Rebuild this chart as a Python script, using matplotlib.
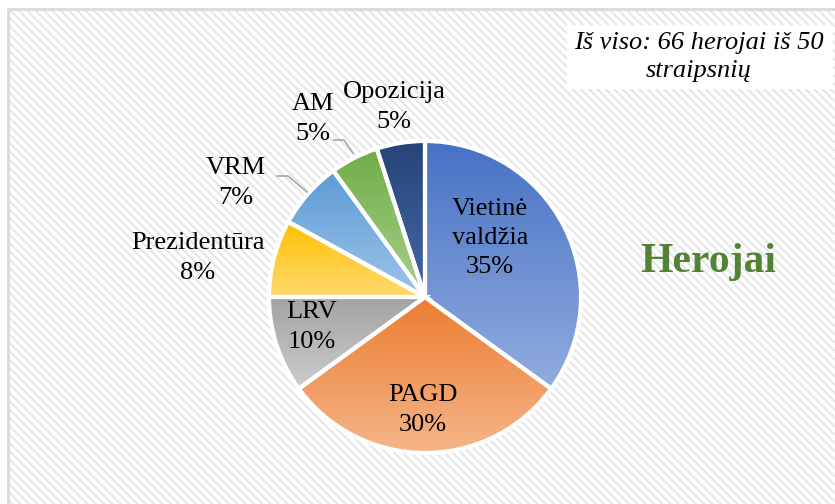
import numpy as np
import matplotlib.pyplot as plt
from matplotlib.patches import Rectangle
from matplotlib.colors import to_rgb

W, H = 835, 504

# data
labels = ["Vietinė\nvaldžia", "PAGD", "LRV", "Prezidentūra", "VRM", "AM", "Opozicija"]
shares = [35, 30, 10, 8, 7, 5, 5]
top_colors = ["#4672C4", "#ED7D31", "#A3A3A3", "#FFC000", "#5B9BD5", "#70AD47", "#264478"]
bottom_colors = ["#93ACDF", "#F5B68A", "#CCCCCC", "#FFDA70", "#A0C4E8", "#A8D08D", "#4668A8"]

plt.rcParams["font.family"] = ["Liberation Serif", "DejaVu Serif"]
plt.rcParams["hatch.linewidth"] = 1.5

fig = plt.figure(figsize=(W / 100, H / 100), dpi=100)
ax = fig.add_axes([0, 0, 1, 1])


def py(y):
    # pixel y (from top) -> data y
    return H - y


# background with diagonal pattern
bg = Rectangle((8, 0), W, py(9), facecolor="white", edgecolor="#E6E6E6",
               hatch="\\\\\\\\", linewidth=0, zorder=0)
ax.add_patch(bg)
ax.plot([8, 8, W], [0, py(9), py(9)], color="#D9D9D9", lw=2, zorder=1)

cx, cy, r = 425, py(297), 156
wedges, _ = ax.pie(shares, startangle=90, counterclock=False, center=(cx, cy), radius=r,
                   wedgeprops=dict(facecolor="none", edgecolor="white", linewidth=3))

for w, c1, c2 in zip(wedges, top_colors, bottom_colors):
    w.set_zorder(3)
    ext = w.get_path().get_extents()
    grad = np.linspace(0, 1, 256)[:, None, None]
    img = (1 - grad) * np.array(to_rgb(c1)) + grad * np.array(to_rgb(c2))
    im = ax.imshow(img, extent=(ext.x0, ext.x1, ext.y0, ext.y1), origin="upper",
                   interpolation="bilinear", zorder=2)
    im.set_clip_path(w)

fs = 19
ls = 1.42
label_pos = [(490, 238), (423, 410), (312, 327), (198, 258), (236, 183), (313, 119), (394, 107)]
for lab, s, (x, y) in zip(labels, shares, label_pos):
    ax.text(x, py(y), f"{lab}\n{s}%", ha="center", va="center", fontsize=fs,
            linespacing=ls, zorder=5)

# leader lines
ax.plot([277, 288, 307], [py(176), py(176), py(192)], color="#A6A6A6", lw=1.2, zorder=4)
ax.plot([334, 344, 353], [py(140), py(140), py(153)], color="#A6A6A6", lw=1.2, zorder=4)

# note box
ax.add_patch(Rectangle((567, py(89)), 266, 64, facecolor="white", edgecolor="none", zorder=4))
ax.text(699, py(57), "Iš viso: 66 herojai iš 50\nstraipsnių", ha="center", va="center",
        fontsize=fs, style="italic", linespacing=1.3, zorder=5)

ax.text(708, py(262), "Herojai", ha="center", va="center", fontsize=30,
        fontweight="bold", color="#548235", zorder=5)

ax.set_xlim(0, W)
ax.set_ylim(0, H)
ax.set_aspect("equal")
ax.axis("off")

fig.savefig("out.png", dpi=100)
